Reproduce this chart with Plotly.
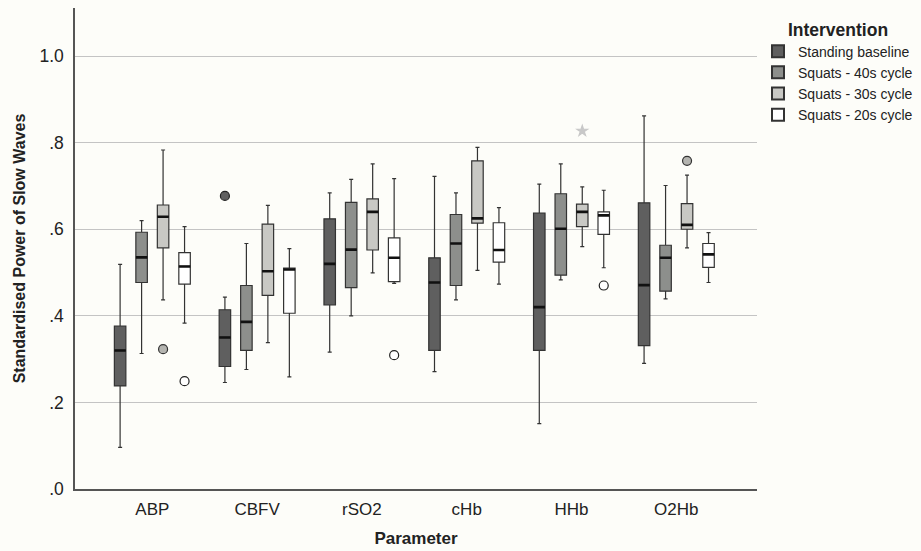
import plotly.graph_objects as go

categories = ['ABP', 'CBFV', 'rSO2', 'cHb', 'HHb', 'O2Hb']
series_names = ['Standing baseline', 'Squats - 40s cycle', 'Squats - 30s cycle', 'Squats - 20s cycle']

standing_lower = [0.096, 0.246, 0.316, 0.271, 0.151, 0.290]
standing_q1 = [0.238, 0.283, 0.425, 0.320, 0.320, 0.331]
standing_med = [0.320, 0.350, 0.520, 0.477, 0.420, 0.471]
standing_q3 = [0.376, 0.414, 0.624, 0.534, 0.637, 0.661]
standing_upper = [0.519, 0.443, 0.684, 0.722, 0.704, 0.862]

s40_lower = [0.313, 0.276, 0.400, 0.437, 0.483, 0.439]
s40_q1 = [0.477, 0.320, 0.465, 0.470, 0.494, 0.457]
s40_med = [0.535, 0.386, 0.553, 0.567, 0.601, 0.534]
s40_q3 = [0.593, 0.470, 0.662, 0.634, 0.682, 0.563]
s40_upper = [0.620, 0.567, 0.715, 0.684, 0.751, 0.701]

s30_lower = [0.437, 0.338, 0.499, 0.505, 0.560, 0.557]
s30_q1 = [0.557, 0.447, 0.552, 0.614, 0.606, 0.600]
s30_med = [0.629, 0.503, 0.640, 0.625, 0.640, 0.610]
s30_q3 = [0.656, 0.612, 0.670, 0.758, 0.658, 0.659]
s30_upper = [0.783, 0.655, 0.751, 0.789, 0.698, 0.725]

s20_lower = [0.383, 0.259, 0.475, 0.473, 0.511, 0.477]
s20_q1 = [0.473, 0.406, 0.479, 0.524, 0.588, 0.512]
s20_med = [0.514, 0.507, 0.534, 0.552, 0.632, 0.542]
s20_q3 = [0.546, 0.510, 0.580, 0.615, 0.640, 0.567]
s20_upper = [0.606, 0.555, 0.717, 0.650, 0.690, 0.592]

# outliers (circles) and extreme values (stars)
standing_out_x = ['CBFV']
standing_out_y = [0.677]
s30_out_x = ['ABP', 'O2Hb']
s30_out_y = [0.323, 0.758]
s30_ext_x = ['HHb']
s30_ext_y = [0.827]
s20_out_x = ['ABP', 'rSO2', 'HHb']
s20_out_y = [0.249, 0.309, 0.470]

y_tickvals = [0.0, 0.2, 0.4, 0.6, 0.8, 1.0]
y_ticktext = ['.0', '.2', '.4', '.6', '.8', '1.0']

fills = ['#5f5f5f', '#8d8f8c', '#c8c8c4', '#ffffff']
groups = ['g0', 'g1', 'g2', 'g3']
BG = '#fdfdf9'
LINE = '#333333'

stats = [
    (standing_lower, standing_q1, standing_med, standing_q3, standing_upper),
    (s40_lower, s40_q1, s40_med, s40_q3, s40_upper),
    (s30_lower, s30_q1, s30_med, s30_q3, s30_upper),
    (s20_lower, s20_q1, s20_med, s20_q3, s20_upper),
]

fig = go.Figure()

for i, (lo, q1, med, q3, up) in enumerate(stats):
    fig.add_trace(go.Box(
        name=series_names[i], x=categories, q1=q1, median=med, q3=q3,
        lowerfence=lo, upperfence=up, fillcolor=fills[i],
        line=dict(color=LINE, width=1.2), whiskerwidth=0.35,
        offsetgroup=groups[i], boxpoints=False, hoverinfo='skip'))

# thicker median lines
for i, (lo, q1, med, q3, up) in enumerate(stats):
    fig.add_trace(go.Box(
        name=series_names[i] + ' median', x=categories, q1=med, median=med, q3=med,
        lowerfence=med, upperfence=med, fillcolor='rgba(0,0,0,0)',
        line=dict(color='#111111', width=2.6), whiskerwidth=0,
        offsetgroup=groups[i], boxpoints=False, showlegend=False, hoverinfo='skip'))

def outlier_trace(xs, ys, gi, symbol, color, lcolor, size):
    return go.Box(
        x=xs, y=ys, offsetgroup=groups[gi], boxpoints='all', jitter=0, pointpos=0,
        fillcolor='rgba(0,0,0,0)', line=dict(width=0, color='rgba(0,0,0,0)'),
        marker=dict(symbol=symbol, color=color, size=size,
                    line=dict(color=lcolor, width=1.2)),
        showlegend=False, hoverinfo='y')

fig.add_trace(outlier_trace(standing_out_x, standing_out_y, 0, 'circle', fills[0], '#222222', 9))
fig.add_trace(outlier_trace(s30_out_x, s30_out_y, 2, 'circle', '#b4b4b0', '#333333', 9))
fig.add_trace(outlier_trace(s30_ext_x, s30_ext_y, 2, 'star', '#c8c8c8', '#c8c8c8', 8))
fig.add_trace(outlier_trace(s20_out_x, s20_out_y, 3, 'circle', '#ffffff', '#222222', 9))

fig.update_layout(
    width=921, height=551,
    margin=dict(l=75, r=164, t=8, b=62, autoexpand=False),
    paper_bgcolor=BG, plot_bgcolor=BG,
    boxmode='group', boxgap=0.18, boxgroupgap=0.465,
    font=dict(family='Liberation Sans, Arial, sans-serif', color='#222222', size=15),
    legend=dict(
        title=dict(text='<b>Intervention</b>', font=dict(size=17.5), side='top center'),
        x=1.0015, y=0.99, xanchor='left', yanchor='top',
        font=dict(size=14), bgcolor='rgba(0,0,0,0)', traceorder='normal',
        itemsizing='constant'),
    xaxis=dict(
        title=dict(text='<b>Parameter</b>', font=dict(size=17), standoff=14),
        type='category', categoryorder='array', categoryarray=categories,
        range=[-0.738, 5.77], showgrid=False, showline=True, linecolor='#555555',
        linewidth=1.5, ticks='outside', ticklen=4, tickcolor='rgba(0,0,0,0)',
        tickfont=dict(size=17), zeroline=False),
    yaxis=dict(
        title=dict(text='<b>Standardised Power of Slow Waves</b>', font=dict(size=16), standoff=10),
        range=[0, 1.111], tickvals=y_tickvals, ticktext=y_ticktext,
        showgrid=True, gridcolor='#c4c4c4', gridwidth=1.3,
        showline=True, linecolor='#555555', linewidth=1.5,
        ticks='outside', ticklen=6, tickcolor='rgba(0,0,0,0)',
        tickfont=dict(size=17.5), zeroline=False),
)

fig.write_html('out.html')
